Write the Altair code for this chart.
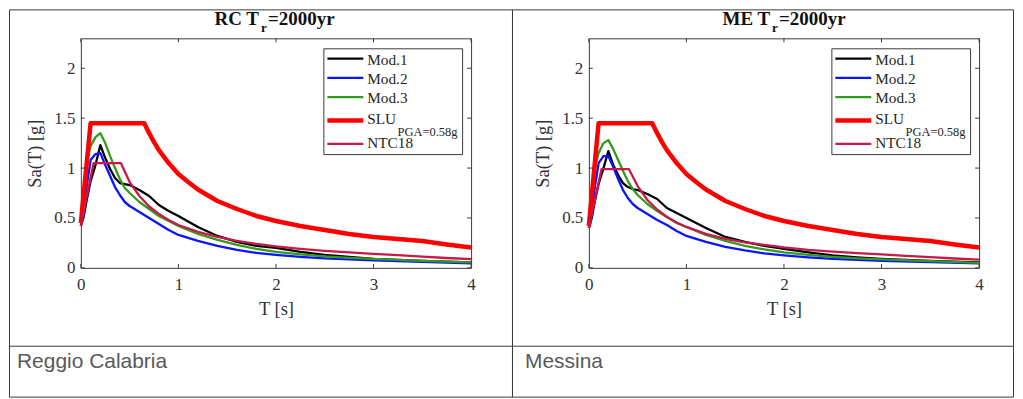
import altair as alt
import pandas as pd

# ---------------- data ----------------
T_MOD = [0, 0.03, 0.06, 0.1, 0.15, 0.2, 0.25, 0.3, 0.35, 0.4, 0.45, 0.5, 0.6, 0.7,
         0.8, 0.9, 1.0, 1.2, 1.4, 1.6, 1.8, 2.0, 2.25, 2.5, 2.75, 3.0, 3.5, 4.0]
T_SLU = [0, 0.1, 0.65, 0.7, 0.75, 0.8, 0.9, 1.0, 1.1, 1.2, 1.4, 1.6, 1.8, 2.0,
         2.25, 2.5, 2.75, 3.0, 3.25, 3.5, 3.75, 4.0]
T_NTC = [0, 0.13, 0.41, 0.5, 0.6, 0.7, 0.8, 0.9, 1.0, 1.2, 1.4, 1.6, 1.8, 2.0,
         2.25, 2.5, 2.75, 3.0, 3.25, 3.5, 3.75, 4.0]

RC_MOD1 = [0.42, 0.52, 0.68, 0.87, 1.03, 1.23, 1.10, 0.99, 0.90, 0.85, 0.84, 0.83, 0.78, 0.72,
           0.63, 0.57, 0.52, 0.41, 0.32, 0.26, 0.22, 0.20, 0.16, 0.13, 0.11, 0.09, 0.07, 0.055]
RC_MOD2 = [0.42, 0.54, 0.82, 1.08, 1.14, 1.15, 1.03, 0.92, 0.81, 0.73, 0.66, 0.62, 0.56, 0.50,
           0.44, 0.38, 0.33, 0.27, 0.22, 0.18, 0.15, 0.13, 0.11, 0.095, 0.085, 0.075, 0.06, 0.045]
RC_MOD3 = [0.45, 0.75, 1.05, 1.22, 1.31, 1.35, 1.25, 1.12, 1.00, 0.89, 0.80, 0.75, 0.66, 0.59,
           0.52, 0.47, 0.42, 0.34, 0.28, 0.23, 0.19, 0.16, 0.135, 0.115, 0.10, 0.09, 0.07, 0.055]
RC_SLU = [0.45, 1.45, 1.45, 1.35, 1.26, 1.18, 1.05, 0.94, 0.86, 0.785, 0.67, 0.59, 0.52, 0.47,
          0.42, 0.38, 0.34, 0.31, 0.29, 0.27, 0.235, 0.205]
RC_NTC = [0.42, 1.05, 1.05, 0.86, 0.72, 0.615, 0.54, 0.48, 0.43, 0.36, 0.31, 0.27, 0.24, 0.215,
          0.19, 0.17, 0.155, 0.14, 0.127, 0.113, 0.099, 0.087]

ME_MOD1 = [0.40, 0.50, 0.66, 0.84, 1.00, 1.17, 1.03, 0.93, 0.85, 0.81, 0.79, 0.78, 0.74, 0.69,
           0.60, 0.55, 0.50, 0.40, 0.31, 0.26, 0.22, 0.19, 0.155, 0.125, 0.105, 0.09, 0.07, 0.055]
ME_MOD2 = [0.40, 0.52, 0.80, 1.05, 1.12, 1.12, 1.01, 0.89, 0.78, 0.70, 0.64, 0.60, 0.54, 0.48,
           0.43, 0.37, 0.32, 0.26, 0.21, 0.175, 0.145, 0.125, 0.105, 0.09, 0.08, 0.07, 0.058, 0.045]
ME_MOD3 = [0.43, 0.70, 0.98, 1.15, 1.25, 1.28, 1.19, 1.08, 0.97, 0.87, 0.79, 0.73, 0.64, 0.57,
           0.51, 0.45, 0.41, 0.33, 0.27, 0.22, 0.185, 0.155, 0.13, 0.11, 0.095, 0.085, 0.068, 0.05]
ME_SLU = [0.42, 1.45, 1.45, 1.35, 1.26, 1.18, 1.05, 0.94, 0.86, 0.785, 0.67, 0.59, 0.52, 0.47,
          0.42, 0.38, 0.34, 0.31, 0.29, 0.27, 0.235, 0.205]
ME_NTC = [0.40, 0.99, 0.99, 0.82, 0.68, 0.585, 0.51, 0.455, 0.41, 0.34, 0.29, 0.255, 0.23, 0.205,
          0.18, 0.163, 0.148, 0.135, 0.12, 0.107, 0.094, 0.082]

X_TICKS = [0, 1, 2, 3, 4]
Y_TICKS = [0, 0.5, 1, 1.5, 2]
SERIES = ["Mod.1", "Mod.2", "Mod.3", "SLU", "NTC18"]
PANEL_CODES = ["RC", "ME"]
CAPTIONS = ["Reggio Calabria", "Messina"]
TITLE_TAIL = "=2000yr"
SLU_SUB = "PGA=0.58g"

PANEL_DATA = {
    "RC": {"Mod.1": (T_MOD, RC_MOD1), "Mod.2": (T_MOD, RC_MOD2), "Mod.3": (T_MOD, RC_MOD3),
           "SLU": (T_SLU, RC_SLU), "NTC18": (T_NTC, RC_NTC)},
    "ME": {"Mod.1": (T_MOD, ME_MOD1), "Mod.2": (T_MOD, ME_MOD2), "Mod.3": (T_MOD, ME_MOD3),
           "SLU": (T_SLU, ME_SLU), "NTC18": (T_NTC, ME_NTC)},
}

# ---------------- styles ----------------
COLORS = {"Mod.1": "#000000", "Mod.2": "#0a14ff", "Mod.3": "#349a1c",
          "SLU": "#ff0000", "NTC18": "#c8194b"}
WIDTHS = {"Mod.1": 2.3, "Mod.2": 2.3, "Mod.3": 2.3, "SLU": 4.5, "NTC18": 2.3}

W, H = 391, 230
SERIF = "Liberation Serif"
SANS = "Liberation Sans"
INK = "#333333"
FRAME = "#3a3a3a"
ONE = pd.DataFrame({"k": [0]})


def xenc():
    return alt.X("T:Q", scale=alt.Scale(domain=[0, 4], nice=False, zero=False),
                 axis=alt.Axis(values=X_TICKS, format="~g", title="T [s]", grid=False,
                               domain=False, ticks=False, tickSize=0, labelFont=SERIF,
                               labelFontSize=17, labelColor=INK, labelPadding=9,
                               labelFlush=False, labelOverlap=False, titleFont=SERIF,
                               titleFontSize=18.5, titleFontWeight="normal", titleColor=INK,
                               titleX=W / 2, titleY=47, titleAlign="center",
                               titleBaseline="alphabetic"))


def yenc():
    return alt.Y("Sa:Q", scale=alt.Scale(domain=[0, 2.3], nice=False, zero=False),
                 axis=alt.Axis(values=Y_TICKS, format="~g", title="Sa(T) [g]", grid=False,
                               domain=False, ticks=False, tickSize=0, labelFont=SERIF,
                               labelFontSize=17, labelColor=INK, labelPadding=6,
                               labelFlush=False, labelOverlap=False, titleFont=SERIF,
                               titleFontSize=18.5, titleFontWeight="normal", titleColor=INK,
                               titleX=-40, titleY=H / 2, titleAngle=270, titleAlign="center",
                               titleBaseline="alphabetic"))


def txt(text, x, y, size, font=SERIF, weight="normal", color="#1a1a1a"):
    return alt.Chart(ONE).mark_text(
        text=text, font=font, fontSize=size, fontWeight=weight, color=color,
        align="left", baseline="alphabetic").encode(x=alt.value(x), y=alt.value(y))


def panel(idx):
    code = PANEL_CODES[idx]
    layers = []
    # table cell border + row divider (kept inside the visible page width)
    left = -71.5 if idx == 0 else -76.5
    right = 432.5 if idx == 0 else 425.5
    layers.append(alt.Chart(ONE).mark_rect(fillOpacity=0, stroke=FRAME, strokeWidth=1).encode(
        x=alt.value(left), x2=alt.value(right), y=alt.value(-28.5), y2=alt.value(359.5)))
    layers.append(alt.Chart(ONE).mark_rule(color=FRAME, strokeWidth=1).encode(
        x=alt.value(left), x2=alt.value(right), y=alt.value(308.5)))
    # caption
    layers.append(txt(CAPTIONS[idx], -64, 330, 21, font=SANS, color="#595959"))
    # title with subscript
    head = code + " T"
    sub_x = 180.5 if code == "RC" else 183.5
    layers.append(txt(head, 134, -13.5, 19, weight="bold", color="#111111"))
    layers.append(txt("r", sub_x, -6.5, 13, weight="bold", color="#111111"))
    layers.append(txt(TITLE_TAIL, sub_x + 7, -13.5, 19, weight="bold", color="#111111"))
    # spectra
    for s in SERIES:
        ts, vals = PANEL_DATA[code][s]
        df = pd.DataFrame({"T": ts, "Sa": vals})
        layers.append(alt.Chart(df).mark_line(
            color=COLORS[s], strokeWidth=WIDTHS[s], strokeJoin="round").encode(
            x=xenc(), y=yenc()))
    # inward ticks on all four sides
    xt = pd.DataFrame({"T": X_TICKS})
    yt = pd.DataFrame({"Sa": Y_TICKS})
    layers.append(alt.Chart(xt).mark_rule(color=FRAME, strokeWidth=1).encode(
        x=xenc(), y=alt.value(H), y2=alt.value(H - 4)))
    layers.append(alt.Chart(xt).mark_rule(color=FRAME, strokeWidth=1).encode(
        x=xenc(), y=alt.value(0), y2=alt.value(4)))
    layers.append(alt.Chart(yt).mark_rule(color=FRAME, strokeWidth=1).encode(
        y=yenc(), x=alt.value(0), x2=alt.value(4)))
    layers.append(alt.Chart(yt).mark_rule(color=FRAME, strokeWidth=1).encode(
        y=yenc(), x=alt.value(W), x2=alt.value(W - 4)))
    # legend box
    layers.append(alt.Chart(ONE).mark_rect(fill="white", stroke=FRAME, strokeWidth=1).encode(
        x=alt.value(243.5), x2=alt.value(382.5), y=alt.value(10.5), y2=alt.value(116.5)))
    row_y = [20.3, 39.7, 59.0, 82.3, 105.7]
    base_y = [27.0, 45.7, 65.0, 86.3, 110.3]
    for s, ly, by in zip(SERIES, row_y, base_y):
        layers.append(alt.Chart(ONE).mark_rule(color=COLORS[s], strokeWidth=WIDTHS[s]).encode(
            x=alt.value(247), x2=alt.value(283), y=alt.value(ly)))
        layers.append(txt(s, 287, by, 15.3, color="#262626"))
        if s == "SLU":
            layers.append(txt(SLU_SUB, 317.3, 97.5, 12.5, color="#262626"))
    return alt.layer(*layers).properties(width=W, height=H)


chart = alt.hconcat(panel(0), panel(1), spacing=118, bounds="flush").properties(
    padding=0, background="white"
).configure_view(stroke=FRAME, strokeWidth=1)

chart.save("out.html", embed_options={"renderer": "svg", "actions": False})
